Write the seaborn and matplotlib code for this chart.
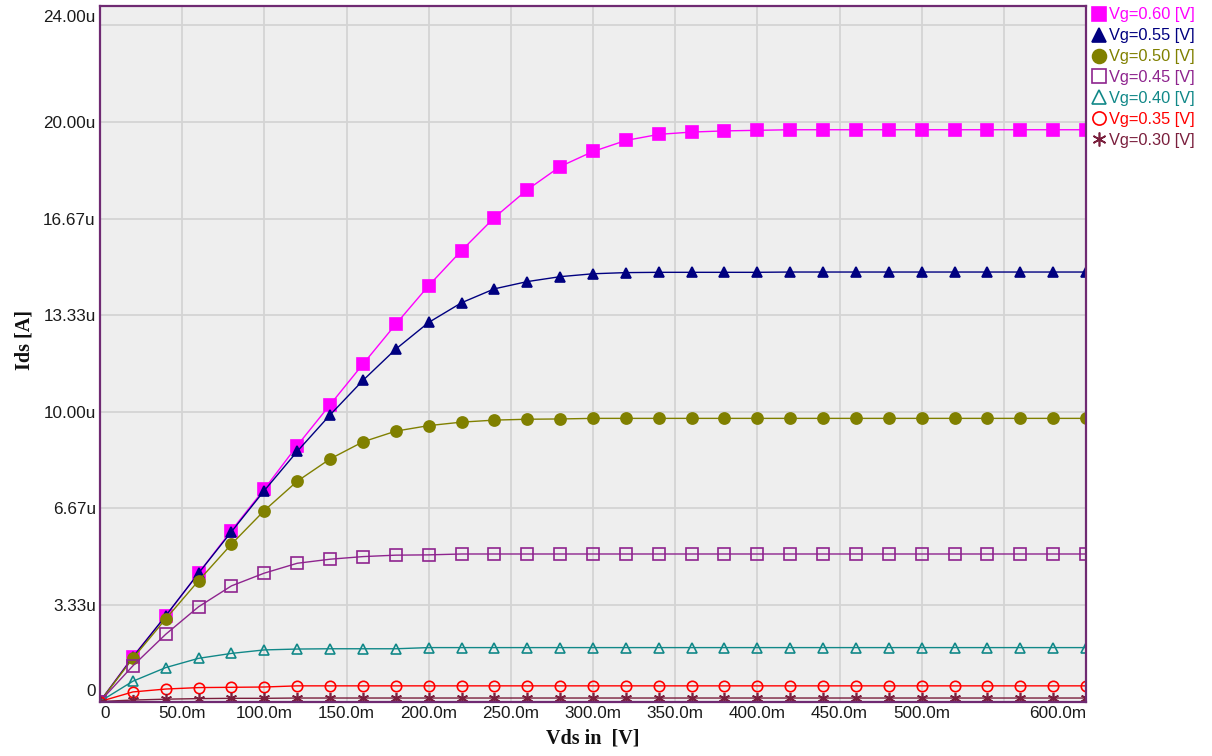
import matplotlib
matplotlib.use("Agg")
import matplotlib.pyplot as plt
from matplotlib.lines import Line2D
from matplotlib.transforms import ScaledTranslation
import seaborn as sns
import pandas as pd

# Drain voltage sweep (mV)
vds_mv = [0, 20, 40, 60, 80, 100, 120, 140, 160, 180, 200, 220, 240, 260, 280,
          300, 320, 340, 360, 380, 400, 420, 440, 460, 480, 500, 520, 540, 560,
          580, 600]

# Drain current per gate voltage (uA)
ids_060 = [0, 1.55, 2.95, 4.43, 5.90, 7.33, 8.83, 10.24, 11.64, 13.02, 14.35,
           15.56, 16.70, 17.66, 18.46, 18.98, 19.36, 19.57, 19.65, 19.69, 19.71,
           19.73, 19.73, 19.73, 19.73, 19.73, 19.73, 19.73, 19.73, 19.73, 19.73]
ids_055 = [0, 1.53, 2.96, 4.43, 5.86, 7.28, 8.63, 9.89, 11.08, 12.16, 13.08,
           13.76, 14.24, 14.49, 14.66, 14.76, 14.80, 14.81, 14.81, 14.81, 14.81,
           14.82, 14.82, 14.82, 14.82, 14.82, 14.82, 14.82, 14.82, 14.82, 14.82]
ids_050 = [0, 1.49, 2.85, 4.17, 5.43, 6.59, 7.60, 8.37, 8.96, 9.33, 9.52,
           9.64, 9.71, 9.74, 9.75, 9.77, 9.77, 9.77, 9.77, 9.77, 9.77,
           9.77, 9.77, 9.77, 9.77, 9.77, 9.77, 9.77, 9.77, 9.77, 9.77]
ids_045 = [0, 1.23, 2.32, 3.27, 3.99, 4.43, 4.77, 4.91, 5.00, 5.05, 5.06,
           5.09, 5.09, 5.09, 5.09, 5.09, 5.09, 5.09, 5.09, 5.09, 5.09,
           5.09, 5.09, 5.09, 5.09, 5.09, 5.09, 5.09, 5.09, 5.09, 5.09]
ids_040 = [0, 0.70, 1.17, 1.49, 1.66, 1.78, 1.81, 1.82, 1.82, 1.82, 1.86,
           1.86, 1.86, 1.86, 1.86, 1.86, 1.86, 1.86, 1.86, 1.86, 1.86,
           1.86, 1.86, 1.86, 1.86, 1.86, 1.86, 1.86, 1.86, 1.86, 1.86]
ids_035 = [0, 0.33, 0.43, 0.48, 0.49, 0.50, 0.54, 0.54, 0.54, 0.54, 0.54,
           0.54, 0.54, 0.54, 0.54, 0.54, 0.54, 0.54, 0.54, 0.54, 0.54,
           0.54, 0.54, 0.54, 0.54, 0.54, 0.54, 0.54, 0.54, 0.54, 0.54]
ids_030 = [0, 0.05, 0.08, 0.10, 0.11, 0.11, 0.12, 0.12, 0.12, 0.12, 0.12,
           0.12, 0.12, 0.12, 0.12, 0.12, 0.12, 0.12, 0.12, 0.12, 0.12,
           0.12, 0.12, 0.12, 0.12, 0.12, 0.12, 0.12, 0.12, 0.12, 0.12]

series_labels = ["Vg=0.60 [V]", "Vg=0.55 [V]", "Vg=0.50 [V]", "Vg=0.45 [V]",
                 "Vg=0.40 [V]", "Vg=0.35 [V]", "Vg=0.30 [V]"]
series_values = [ids_060, ids_055, ids_050, ids_045, ids_040, ids_035, ids_030]

x_ticks = [0, 50, 100, 150, 200, 250, 300, 350, 400, 450, 500, 550, 600]
x_tick_labels = ["0", "50.0m", "100.0m", "150.0m", "200.0m", "250.0m", "300.0m",
                 "350.0m", "400.0m", "450.0m", "500.0m", "", "600.0m"]
y_ticks = [0, 10 / 3, 20 / 3, 10, 40 / 3, 50 / 3, 20, 24]
y_tick_labels = ["0", "3.33u", "6.67u", "10.00u", "13.33u", "16.67u", "20.00u", "24.00u"]

# styling per curve: colour, marker, filled?, marker size
styles = [
    ("#FF00FF", "s", True, 8),
    ("#000080", "^", True, 7.5),
    ("#808000", "o", True, 8),
    ("#8E248E", "s", False, 8),
    ("#118888", "^", False, 7.5),
    ("#FF0000", "o", False, 7.5),
    ("#7A1F3D", (6, 2, 0), False, 8),
]

sns.set_theme(style="whitegrid")
plt.rcParams["font.family"] = ["Liberation Sans", "DejaVu Sans"]

fig = plt.figure(figsize=(12.12, 7.56), dpi=100)
ax = fig.add_axes([100 / 1212, 1 - 701.5 / 756, 986 / 1212, 695.5 / 756])
ax.set_facecolor("#EEEEEE")

frames = []
for label, vals in zip(series_labels, series_values):
    frames.append(pd.DataFrame({"Vds": vds_mv, "Ids": vals, "Vg": label}))
df = pd.concat(frames, ignore_index=True)

handles = []
for (label, (color, marker, filled, ms)) in zip(series_labels, styles):
    sub = df[df["Vg"] == label]
    face = color if filled else "none"
    sns.lineplot(data=sub, x="Vds", y="Ids", ax=ax, color=color, linewidth=1.0,
                 marker=marker, markersize=ms, markerfacecolor=face,
                 markeredgecolor=color, markeredgewidth=1.2, legend=False,
                 errorbar=None, sort=False)
    handles.append(Line2D([], [], linestyle="none", marker=marker, markersize=ms + 2,
                          markerfacecolor=face, markeredgecolor=color,
                          markeredgewidth=1.2, color=color, label=label))

ax.set_xlim(0, 600)
ax.set_ylim(0, 24)

ax.set_xticks(x_ticks, x_tick_labels)
ax.set_yticks(y_ticks, y_tick_labels)
ax.set_yticks([70 / 3], minor=True)
ax.grid(True, which="both", color="#D4D4D4", linewidth=1.3)
ax.tick_params(which="both", length=0, labelsize=12.3, colors="#1A1A1A", pad=3)

xl = ax.get_xticklabels()
xl[0].set_horizontalalignment("left")
xl[-1].set_horizontalalignment("right")
yl = ax.get_yticklabels()
yl[0].set_verticalalignment("bottom")
yl[0].set_transform(yl[0].get_transform() + ScaledTranslation(0, 2 / 72, fig.dpi_scale_trans))
yl[-1].set_verticalalignment("top")
yl[-1].set_transform(yl[-1].get_transform() + ScaledTranslation(0, -3 / 72, fig.dpi_scale_trans))

for sp in ax.spines.values():
    sp.set_visible(True)
    sp.set_color("#6F2A72")
    sp.set_linewidth(1.6)

ax.set_xlabel("Vds in  [V]", family="Liberation Serif", fontweight="bold",
              fontsize=14.5, color="#111111", labelpad=6)
ax.set_ylabel("Ids [A]", family="Liberation Serif", fontweight="bold",
              fontsize=14.5, color="#111111")
ax.yaxis.set_label_coords(-0.066, 0.52)

leg = fig.legend(handles=handles, loc="upper left",
                 bbox_to_anchor=(1092 / 1212, 1 - 7.5 / 756), frameon=False,
                 fontsize=11.8, handlelength=0.9, handletextpad=0.15,
                 labelspacing=0.36, borderpad=0, borderaxespad=0)
for txt, (color, *_rest) in zip(leg.get_texts(), styles):
    txt.set_color(color)

fig.savefig("out.png", dpi=100, facecolor="white")
